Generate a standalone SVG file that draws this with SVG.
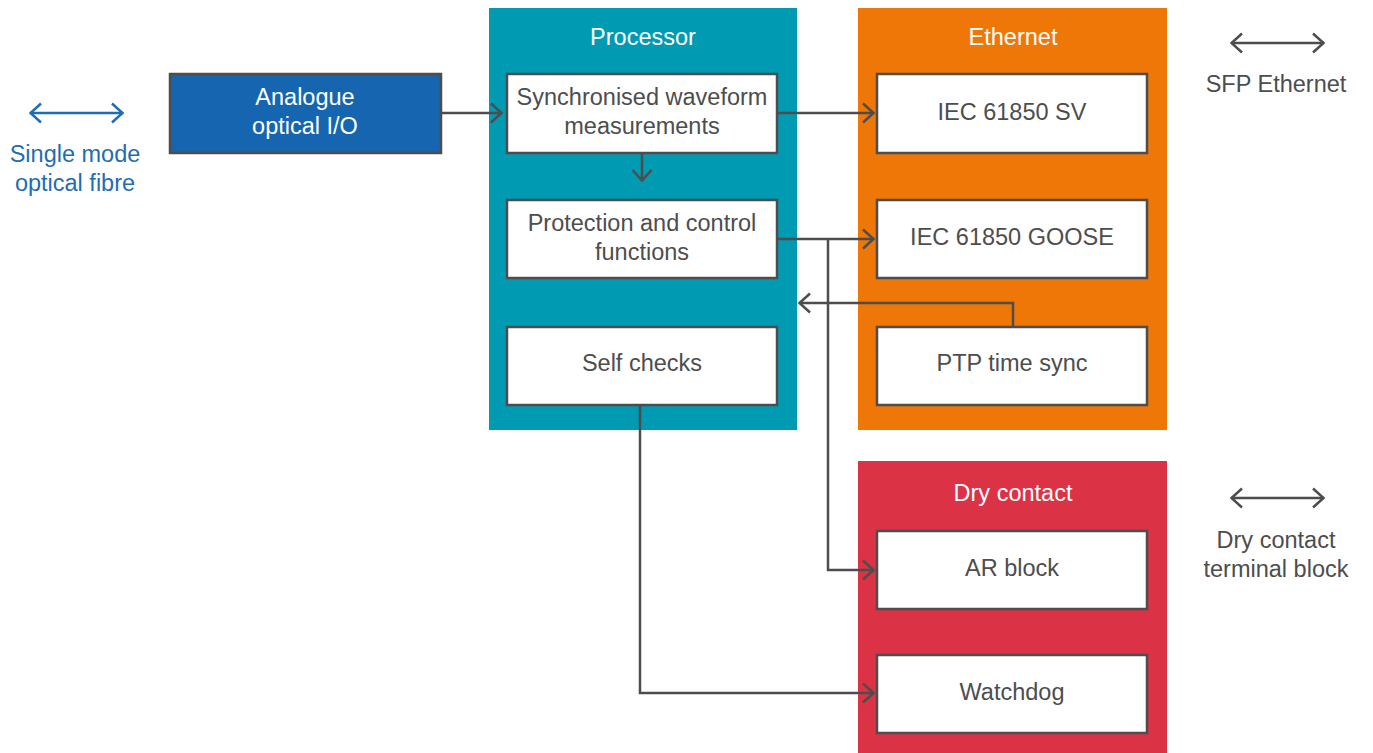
<svg xmlns="http://www.w3.org/2000/svg" width="1373" height="753" viewBox="0 0 1373 753">
<style>
.t{font-family:"Liberation Sans",Arial,sans-serif;font-size:23.5px;text-anchor:middle}
.w{fill:#ffffff}
.g{fill:#4d4d4d}
.b{fill:#1f6db3}
.box{fill:#ffffff;stroke:#4d4d4d;stroke-width:2.5}
.c{fill:none;stroke:#4d4d4d;stroke-width:2.5}
</style>
<defs>
<marker id="ah" viewBox="0 0 14 22" refX="12.5" refY="11" markerWidth="14" markerHeight="22" markerUnits="userSpaceOnUse" orient="auto-start-reverse">
<path d="M1.5,1.5 L12,11 L1.5,20.5" fill="none" stroke="#4d4d4d" stroke-width="2.5"/>
</marker>
<marker id="ahb" viewBox="0 0 14 22" refX="12.5" refY="11" markerWidth="14" markerHeight="22" markerUnits="userSpaceOnUse" orient="auto-start-reverse">
<path d="M1.5,1.5 L12,11 L1.5,20.5" fill="none" stroke="#1f6db3" stroke-width="2.5"/>
</marker>
</defs>
<rect width="1373" height="753" fill="#ffffff"/>
<g id="processor">
<rect x="489" y="8" width="308" height="422" fill="#009ab3"/>
<text class="t w" x="643" y="45">Processor</text>
</g>
<g id="ethernet">
<rect x="858" y="8" width="309" height="422" fill="#ee7707"/>
<text class="t w" x="1013" y="45">Ethernet</text>
</g>
<g id="drycontact">
<rect x="858" y="461" width="309" height="292" fill="#db3246"/>
<text class="t w" x="1013" y="501">Dry contact</text>
</g>
<g id="analogue">
<rect x="170" y="74" width="271" height="79" fill="#1565b0" stroke="#4d4d4d" stroke-width="2.5"/>
<text class="t w" x="305" y="105">Analogue</text>
<text class="t w" x="305" y="134">optical I/O</text>
</g>
<g id="sync">
<rect class="box" x="507" y="74" width="270" height="79"/>
<text class="t g" x="642" y="105">Synchronised waveform</text>
<text class="t g" x="642" y="134">measurements</text>
</g>
<g id="protection">
<rect class="box" x="507" y="200" width="270" height="78"/>
<text class="t g" x="642" y="231">Protection and control</text>
<text class="t g" x="642" y="260">functions</text>
</g>
<g id="selfchecks">
<rect class="box" x="507" y="327" width="270" height="78"/>
<text class="t g" x="642" y="371">Self checks</text>
</g>
<g id="sv">
<rect class="box" x="877" y="74" width="270" height="79"/>
<text class="t g" x="1012" y="120">IEC 61850 SV</text>
</g>
<g id="goose">
<rect class="box" x="877" y="200" width="270" height="78"/>
<text class="t g" x="1012" y="245">IEC 61850 GOOSE</text>
</g>
<g id="ptp">
<rect class="box" x="877" y="327" width="270" height="78"/>
<text class="t g" x="1012" y="371">PTP time sync</text>
</g>
<g id="ar">
<rect class="box" x="877" y="531" width="270" height="78"/>
<text class="t g" x="1012" y="576">AR block</text>
</g>
<g id="watchdog">
<rect class="box" x="877" y="655" width="270" height="78"/>
<text class="t g" x="1012" y="700">Watchdog</text>
</g>
<g id="fibre">
<line x1="30" y1="113" x2="123" y2="113" stroke="#1f6db3" stroke-width="2.5" marker-start="url(#ahb)" marker-end="url(#ahb)"/>
<text class="t b" x="75" y="162">Single mode</text>
<text class="t b" x="75" y="191">optical fibre</text>
</g>
<g id="sfp">
<line x1="1231" y1="43" x2="1324" y2="43" class="c" marker-start="url(#ah)" marker-end="url(#ah)"/>
<text class="t g" x="1276" y="92">SFP Ethernet</text>
</g>
<g id="terminal">
<line x1="1231" y1="498" x2="1324" y2="498" class="c" marker-start="url(#ah)" marker-end="url(#ah)"/>
<text class="t g" x="1276" y="548">Dry contact</text>
<text class="t g" x="1276" y="577">terminal block</text>
</g>
<g id="connectors">
<path class="c" d="M441,113 H502" marker-end="url(#ah)"/>
<path class="c" d="M777,113 H874" marker-end="url(#ah)"/>
<path class="c" d="M642,153 V181" marker-end="url(#ah)"/>
<path class="c" d="M777,239 H874" marker-end="url(#ah)"/>
<path class="c" d="M828,239 V570 H874" marker-end="url(#ah)"/>
<path class="c" d="M1013,327 V303 H799" marker-end="url(#ah)"/>
<path class="c" d="M640,405 V693 H874" marker-end="url(#ah)"/>
</g>
</svg>
